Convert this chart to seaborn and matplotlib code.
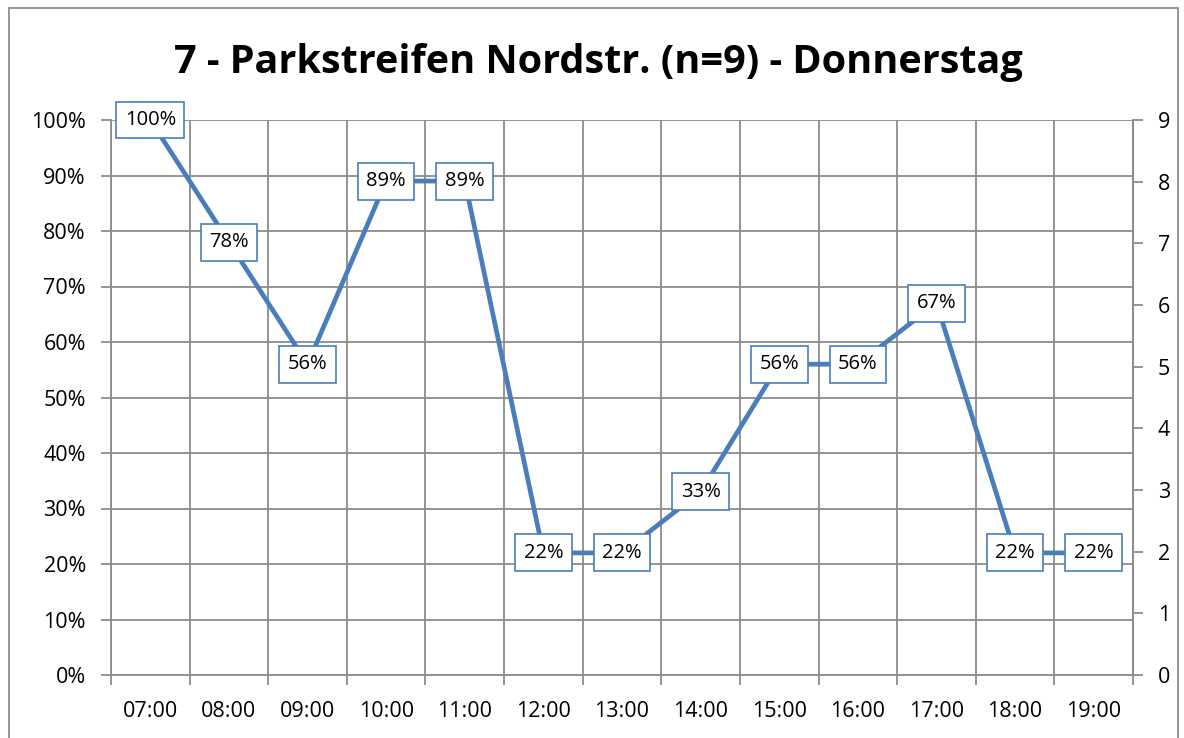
import matplotlib
matplotlib.use("Agg")
import matplotlib.pyplot as plt
import seaborn as sns
import pandas as pd
import numpy as np
from matplotlib.patches import Rectangle

times = ["07:00", "08:00", "09:00", "10:00", "11:00", "12:00", "13:00",
         "14:00", "15:00", "16:00", "17:00", "18:00", "19:00"]
occupancy = [100, 78, 56, 89, 89, 22, 22, 33, 56, 56, 67, 22, 22]
labels = ["100%", "78%", "56%", "89%", "89%", "22%", "22%",
          "33%", "56%", "56%", "67%", "22%", "22%"]
n_total = 9
title = "7 - Parkstreifen Nordstr. (n=9) - Donnerstag"

sns.set_theme(style="white")
plt.rcParams['font.family'] = ['Open Sans', 'DejaVu Sans']
plt.rcParams['text.color'] = 'black'
plt.rcParams['xtick.color'] = 'black'
plt.rcParams['ytick.color'] = 'black'

LINE = "#4A7EBB"
GRID = "#8C8C8C"

df = pd.DataFrame({"pos": np.arange(len(times)), "val": occupancy})

fig = plt.figure(figsize=(11.84, 7.38), dpi=100)
ax = fig.add_axes([111/1184, 1-675/738, (1133-111)/1184, (675-120)/738])

sns.lineplot(data=df, x="pos", y="val", ax=ax, color=LINE, linewidth=3.4, zorder=3)

ax.set_xlim(-0.5, len(times)-0.5)
ax.set_ylim(0, 100)
ax.set_xticks(np.arange(len(times)))
ax.set_xticklabels(times)
ax.set_xticks(np.arange(-0.5, len(times)), minor=True)
ax.tick_params(axis="x", which="major", length=0, pad=19, labelsize=15.5, labelcolor="black")
ax.tick_params(axis="x", which="minor", length=7, width=1.3, color=GRID, direction="out", bottom=True)
ax.set_yticks(np.arange(0, 101, 10))
ax.set_yticklabels([f"{v}%" for v in range(0, 101, 10)])
ax.tick_params(axis="y", length=7, width=1.3, color=GRID, direction="out", left=True,
               labelsize=15.5, pad=11, labelcolor="black")
ax.grid(True, axis="y", which="major", color=GRID, linewidth=1.3)
ax.grid(True, axis="x", which="minor", color=GRID, linewidth=1.3)
ax.grid(False, axis="x", which="major")
ax.set_xlabel("")
ax.set_ylabel("")
ax.spines["top"].set_visible(False)
for s in ["left", "bottom", "right"]:
    ax.spines[s].set_color(GRID)
    ax.spines[s].set_linewidth(1.3)

for x, y, t in zip(df["pos"], df["val"], labels):
    ax.text(x, y, t, ha="center", va="center", fontsize=14.5, color="black", zorder=5,
            bbox=dict(boxstyle="square,pad=0.42", facecolor="white", edgecolor=LINE, linewidth=1.2))

ax2 = ax.twinx()
ax2.set_ylim(0, n_total)
ax2.set_yticks(np.arange(0, n_total+1, 1))
ax2.tick_params(axis="y", length=7, width=1.3, color=GRID, direction="out", right=True,
                labelsize=15.5, pad=11, labelcolor="black")
for s in ["top", "left", "bottom"]:
    ax2.spines[s].set_visible(False)
ax2.spines["right"].set_color(GRID)
ax2.spines["right"].set_linewidth(1.3)

fig.text(598/1184, 1-62/738, title, ha="center", va="center", fontsize=28.5,
         fontweight="bold", color="black")

fig.patches.append(Rectangle((9/1184, -0.01), (1178-9)/1184, (738-8)/738 + 0.01, transform=fig.transFigure,
                             fill=False, edgecolor=GRID, linewidth=1.3))

fig.savefig("out.png", dpi=100)
